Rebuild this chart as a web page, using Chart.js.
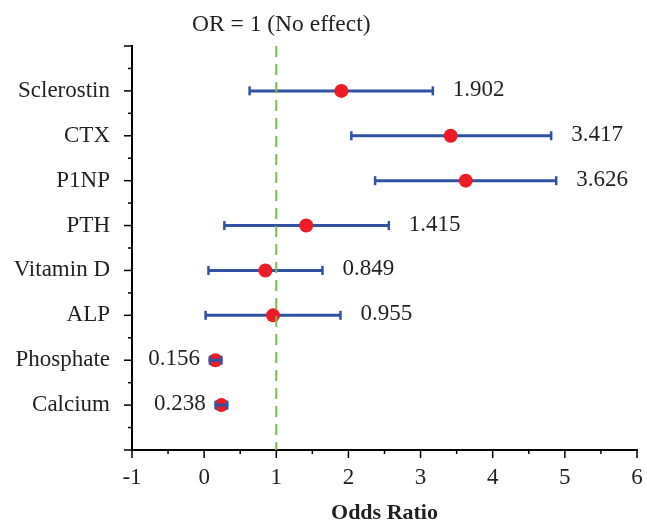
<!DOCTYPE html>
<html>
<head>
<meta charset="utf-8">
<script src="https://cdn.jsdelivr.net/npm/chart.js@4/dist/chart.umd.min.js"></script>
<style>
  html, body { margin: 0; padding: 0; background: #fff; }
  #wrap { width: 647px; height: 525px; }
</style>
</head>
<body>
<div id="wrap"><canvas id="forestChart" width="647" height="525"></canvas></div>
<script>
// rows from top to bottom
const categories = ['Sclerostin', 'CTX', 'P1NP', 'PTH', 'Vitamin D', 'ALP', 'Phosphate', 'Calcium'];
const oddsRatio = [1.902, 3.417, 3.626, 1.415, 0.849, 0.955, 0.156, 0.238];
const ciLower = [0.63, 2.04, 2.37, 0.28, 0.06, 0.02, 0.08, 0.16];
const ciUpper = [3.17, 4.81, 4.88, 2.56, 1.64, 1.89, 0.24, 0.32];
const xTickValues = [-1, 0, 1, 2, 3, 4, 5, 6];
const refLine = 1;

const FONT = '"Liberation Serif", "Times New Roman", serif';
const TEXT = '#231f20';
const BLUE = '#2f52a3';
const RED = '#ed1c24';
const GREEN = '#72c045';

// error bars, one little line per row, caps are rotated 'line' points
const ciSets = categories.map((c, i) => ({
    type: 'line',
    data: [{x: ciLower[i], y: i}, {x: ciUpper[i], y: i}],
    borderColor: BLUE,
    borderWidth: 3,
    pointStyle: 'line',
    rotation: 90,
    pointRadius: 4.5,
    pointBorderColor: BLUE,
    pointBorderWidth: 2.5,
    showLine: true,
    order: i >= 6 ? 1 : 3
}));

// minor/major tick marks + text labels
const forestExtras = {
    id: 'forestExtras',
    afterDraw(chart) {
        const ctx = chart.ctx;
        const xs = chart.scales.x, ys = chart.scales.y;
        ctx.save();
        ctx.strokeStyle = '#000';
        ctx.lineWidth = 1.5;
        xs.ticks.forEach(t => {
            const px = xs.getPixelForValue(t.value);
            const len = Number.isInteger(t.value) ? 8 : 4;
            ctx.beginPath();
            ctx.moveTo(px, xs.top);
            ctx.lineTo(px, xs.top + len);
            ctx.stroke();
        });
        ys.ticks.forEach(t => {
            const py = ys.getPixelForValue(t.value);
            const len = Number.isInteger(t.value) ? 8 : 4;
            ctx.beginPath();
            ctx.moveTo(ys.right, py);
            ctx.lineTo(ys.right - len, py);
            ctx.stroke();
        });

        ctx.fillStyle = TEXT;
        ctx.font = '23px ' + FONT;
        ctx.textBaseline = 'middle';
        oddsRatio.forEach((v, i) => {
            const py = ys.getPixelForValue(i) - 1;
            if (i >= 6) {
                ctx.textAlign = 'right';
                ctx.fillText(v.toFixed(3), xs.getPixelForValue(ciLower[i]) - 10, py);
            } else {
                ctx.textAlign = 'left';
                ctx.fillText(v.toFixed(3), xs.getPixelForValue(ciUpper[i]) + 20, py);
            }
        });

        ctx.textAlign = 'center';
        ctx.textBaseline = 'alphabetic';
        ctx.font = '23.5px ' + FONT;
        ctx.fillText('OR = 1 (No effect)', xs.getPixelForValue(refLine) + 5, 31);
        ctx.restore();
    }
};

const forestChart = new Chart(document.getElementById('forestChart'), {
    type: 'scatter',
    data: {
        datasets: [
            {
                type: 'line',
                data: [{x: refLine, y: -1}, {x: refLine, y: 8}],
                borderColor: GREEN,
                borderWidth: 2,
                borderDash: [11, 7],
                pointRadius: 0,
                showLine: true,
                order: 0
            },
            {
                data: oddsRatio.map((v, i) => ({x: v, y: i})),
                backgroundColor: RED,
                borderWidth: 0,
                pointRadius: 7,
                order: 2
            },
            ...ciSets
        ]
    },
    options: {
        responsive: false,
        animation: false,
        layout: { padding: { top: 46, right: 10, left: 0, bottom: 0 } },
        plugins: {
            legend: { display: false },
            tooltip: { enabled: false }
        },
        scales: {
            x: {
                type: 'linear',
                min: -1,
                max: 6,
                afterFit: s => { s.height = 75; s.paddingLeft = 0; s.paddingRight = 0; },
                afterBuildTicks: s => {
                    s.ticks = [];
                    for (let v = -1; v <= 6; v += 0.5) s.ticks.push({value: v});
                },
                ticks: {
                    autoSkip: false,
                    maxRotation: 0,
                    padding: 14,
                    color: TEXT,
                    font: { family: FONT, size: 23 },
                    callback: v => xTickValues.includes(v) ? String(v) : ''
                },
                grid: { drawOnChartArea: false, drawTicks: false },
                border: { display: true, color: '#000', width: 2 },
                title: {
                    display: true,
                    text: 'Odds Ratio',
                    color: TEXT,
                    padding: { top: 0, bottom: -2 },
                    font: { family: FONT, size: 22, weight: 'bold', lineHeight: 1.2 }
                }
            },
            y: {
                type: 'linear',
                min: -1,
                max: 8,
                reverse: true,
                afterFit: s => { s.width = 132; },
                afterBuildTicks: s => {
                    s.ticks = [];
                    for (let v = -1; v <= 8; v += 0.5) s.ticks.push({value: v});
                },
                ticks: {
                    autoSkip: false,
                    padding: 22,
                    color: TEXT,
                    font: { family: FONT, size: 23 },
                    callback: v => (Number.isInteger(v) && v >= 0 && v < categories.length) ? categories[v] : ''
                },
                grid: { drawOnChartArea: false, drawTicks: false },
                border: { display: true, color: '#000', width: 2 }
            }
        }
    },
    plugins: [forestExtras]
});
</script>
</body>
</html>
